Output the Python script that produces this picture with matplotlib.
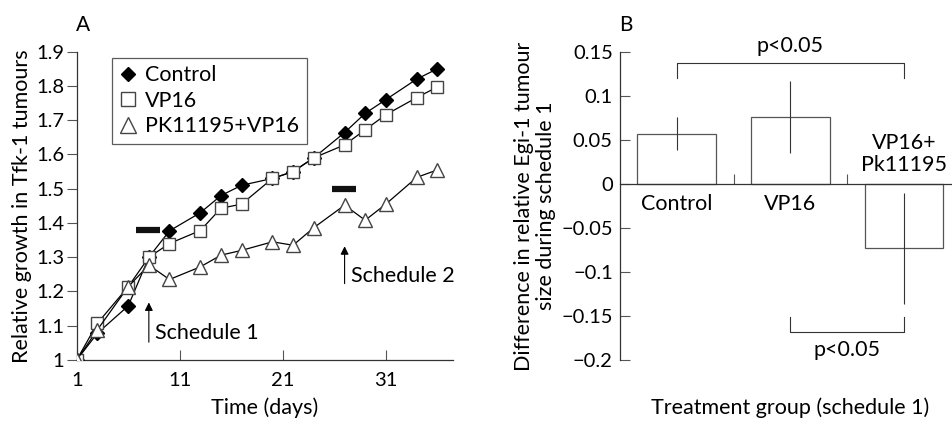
import numpy as np
import matplotlib
matplotlib.use("Agg")
import matplotlib.pyplot as plt

plt.rcParams['font.family'] = ['Lato', 'DejaVu Sans']
plt.rcParams['font.size'] = 15.5
plt.rcParams['axes.unicode_minus'] = True

# Panel A data: relative growth over time
days = [1, 3, 6, 8, 10, 13, 15, 17, 20, 22, 24, 27, 29, 31, 34, 36]
control = [1.0, 1.078, 1.158, 1.30, 1.377, 1.43, 1.48, 1.51, 1.53, 1.55, 1.59,
           1.664, 1.72, 1.76, 1.82, 1.85]
vp16 = [1.0, 1.107, 1.214, 1.30, 1.34, 1.378, 1.443, 1.455, 1.53, 1.55, 1.59,
        1.628, 1.672, 1.716, 1.766, 1.797]
pk_vp16 = [1.0, 1.088, 1.214, 1.277, 1.235, 1.272, 1.306, 1.32, 1.345, 1.335,
           1.386, 1.452, 1.408, 1.455, 1.533, 1.555]
y_ticks_a = [1.0, 1.1, 1.2, 1.3, 1.4, 1.5, 1.6, 1.7, 1.8, 1.9]
y_labels_a = ['1', '1.1', '1.2', '1.3', '1.4', '1.5', '1.6', '1.7', '1.8', '1.9']
x_ticks_a = [1, 11, 21, 31]

# Panel B data: difference during schedule 1
groups = ['Control', 'VP16', 'VP16+\nPk11195']
diff = [0.057, 0.076, -0.073]
err = [0.019, 0.041, 0.063]
y_ticks_b = [-0.2, -0.15, -0.1, -0.05, 0, 0.05, 0.1, 0.15]
y_labels_b = ['\u22120.2', '\u22120.15', '\u22120.1', '\u22120.05', '0', '0.05', '0.1', '0.15']

TICK_FS = 14.5

fig = plt.figure(figsize=(9.52, 4.21), dpi=100)

# ---------- Panel A ----------
ax = fig.add_axes([0.0806, 0.1449, 0.395, 0.7323])
ax.plot(days, control, color='black', lw=0.9, marker='D', ms=6.8,
        mfc='black', mec='black', label='Control', zorder=3)
ax.plot(days, vp16, color='black', lw=0.9, marker='s', ms=9,
        mfc='white', mec='#444444', label='VP16', zorder=4)
ax.plot(days, pk_vp16, color='black', lw=0.9, marker='^', ms=10,
        mfc='white', mec='#444444', label='PK11195+VP16', zorder=4)

ax.set_xlim(1, 37.5)
ax.set_ylim(1.0, 1.9)
ax.set_yticks(y_ticks_a)
ax.set_yticklabels(y_labels_a)
ax.set_xticks(x_ticks_a)
ax.spines['top'].set_visible(False)
ax.spines['right'].set_visible(False)
ax.tick_params(axis='y', direction='out', length=7, width=0.8, color='#555555',
               pad=2, labelsize=TICK_FS)
ax.tick_params(axis='x', direction='in', length=7, width=0.8, color='#555555',
               pad=9, labelsize=TICK_FS)
for s in ['left', 'bottom']:
    ax.spines[s].set_linewidth(0.9)
    ax.spines[s].set_color('#333333')
ax.set_xlabel('Time (days)', labelpad=6)
ax.set_ylabel('Relative growth in Tfk-1 tumours', labelpad=3)

# treatment bars and arrows
ax.plot([6.8, 9.1], [1.38, 1.38], color='#111111', lw=4.5, solid_capstyle='butt')
ax.plot([25.8, 28.1], [1.50, 1.50], color='#111111', lw=4.5, solid_capstyle='butt')
ax.annotate('', xy=(8, 1.168), xytext=(8, 1.052),
            arrowprops=dict(arrowstyle='-|>', color='black', lw=0.8,
                            mutation_scale=12, shrinkA=0, shrinkB=0))
ax.annotate('', xy=(27, 1.332), xytext=(27, 1.223),
            arrowprops=dict(arrowstyle='-|>', color='black', lw=0.8,
                            mutation_scale=12, shrinkA=0, shrinkB=0))
ax.text(8.6, 1.078, 'Schedule 1', ha='left', va='center')
ax.text(27.6, 1.245, 'Schedule 2', ha='left', va='center')

leg = ax.legend(loc='upper left', bbox_to_anchor=(0.065, 1.015), frameon=True,
                fancybox=False, edgecolor='#333333', handlelength=0.8,
                handletextpad=0.4, borderpad=0.35, labelspacing=0.25,
                fontsize=15.5, markerscale=1.1)
leg.get_frame().set_linewidth(0.9)
for h in leg.legend_handles:
    h.set_linestyle('None')

fig.text(83 / 952, 1 - 25 / 421, 'A', ha='center', va='center', fontsize=15)

# ---------- Panel B ----------
bx = fig.add_axes([0.651, 0.1449, 0.349, 0.7323])
xpos = np.arange(len(groups))
bx.bar(xpos, diff, width=0.69, color='white', edgecolor='#555555', lw=0.9, zorder=2)
bx.errorbar(xpos, diff, yerr=err, fmt='none', ecolor='#333333', elinewidth=0.8,
            capsize=0, zorder=3)
bx.set_xlim(-0.5, 2.42)
bx.set_ylim(-0.2, 0.15)
bx.set_yticks(y_ticks_b)
bx.set_yticklabels(y_labels_b)
bx.spines['top'].set_visible(False)
bx.spines['right'].set_visible(False)
bx.spines['bottom'].set_position(('data', 0))
bx.spines['bottom'].set_linewidth(0.9)
bx.spines['bottom'].set_color('#333333')
bx.spines['left'].set_linewidth(0.9)
bx.spines['left'].set_color('#333333')
bx.set_xticks([0.5, 1.5])
bx.set_xticklabels(['', ''])
bx.tick_params(axis='x', direction='in', length=7, width=0.8, color='#555555')
bx.tick_params(axis='y', direction='in', length=7, width=0.8, color='#555555',
               pad=5, labelsize=TICK_FS)

# group labels
bx.text(0, -0.023, groups[0], ha='center', va='center')
bx.text(1, -0.023, groups[1], ha='center', va='center')
bx.text(2, 0.034, groups[2], ha='center', va='center', linespacing=1.15)

# significance brackets
bx.plot([0, 0, 2, 2], [0.120, 0.137, 0.137, 0.120], color='#333333', lw=0.8)
bx.text(1, 0.157, 'p<0.05', ha='center', va='center')
bx.plot([1, 1, 2, 2], [-0.151, -0.168, -0.168, -0.151], color='#333333', lw=0.8)
bx.text(1.5, -0.189, 'p<0.05', ha='center', va='center')

bx.set_ylabel('Difference in relative Egi-1 tumour\nsize during schedule 1',
              labelpad=4, linespacing=1.1)
fig.text(790 / 952, 1 - 408 / 421, 'Treatment group (schedule 1)', ha='center', va='center')
fig.text(626 / 952, 1 - 25 / 421, 'B', ha='center', va='center', fontsize=15)

fig.savefig('out.png', dpi=100)
